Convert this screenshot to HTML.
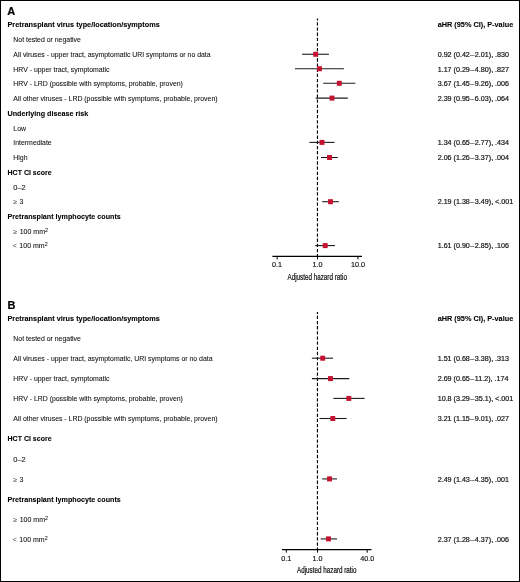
<!DOCTYPE html>
<html><head><meta charset="utf-8"><title>Forest plot</title>
<style>
html,body{margin:0;padding:0;background:#fff;}
svg{display:block;font-family:"Liberation Sans",sans-serif;}
</style></head><body>
<svg width="520" height="582" viewBox="0 0 520 582">
<rect x="0.5" y="0.5" width="519" height="581" fill="#fff" stroke="#000" stroke-width="1"/>
<text transform="translate(7.3 15)" font-size="11" font-weight="700" fill="#000" stroke="#000" stroke-width="0.2">A</text>
<text transform="translate(7.5 27) scale(1.0532 1)" font-size="6.95" font-weight="700" fill="#000" stroke="#000" stroke-width="0.08">Pretransplant virus type/location/symptoms</text>
<text transform="translate(13.3 42) scale(1.0485 1)" font-size="6.6" fill="#111" stroke="#111" stroke-width="0.07">Not tested or negative</text>
<text transform="translate(13.3 57) scale(1.0485 1)" font-size="6.6" fill="#111" stroke="#111" stroke-width="0.07">All viruses - upper tract, asymptomatic URI symptoms or no data</text>
<text transform="translate(437.7 57) scale(1.0500 1)" font-size="6.8" fill="#111" stroke="#111" stroke-width="0.18">0.92 (0.42<tspan dx=".5">–</tspan><tspan dx=".5">2.01), .830</tspan></text>
<text transform="translate(13.3 72) scale(1.0485 1)" font-size="6.6" fill="#111" stroke="#111" stroke-width="0.07">HRV - upper tract, symptomatic</text>
<text transform="translate(437.7 72) scale(1.0500 1)" font-size="6.8" fill="#111" stroke="#111" stroke-width="0.18">1.17 (0.29<tspan dx=".5">–</tspan><tspan dx=".5">4.80), .827</tspan></text>
<text transform="translate(13.3 86) scale(1.0485 1)" font-size="6.6" fill="#111" stroke="#111" stroke-width="0.07">HRV - LRD (possible with symptoms, probable, proven)</text>
<text transform="translate(437.7 86) scale(1.0500 1)" font-size="6.8" fill="#111" stroke="#111" stroke-width="0.18">3.67 (1.45<tspan dx=".5">–</tspan><tspan dx=".5">9.26), .006</tspan></text>
<text transform="translate(13.3 101) scale(1.0485 1)" font-size="6.6" fill="#111" stroke="#111" stroke-width="0.07">All other viruses - LRD (possible with symptoms, probable, proven)</text>
<text transform="translate(437.7 101) scale(1.0500 1)" font-size="6.8" fill="#111" stroke="#111" stroke-width="0.18">2.39 (0.95<tspan dx=".5">–</tspan><tspan dx=".5">6.03), .064</tspan></text>
<text transform="translate(7.5 116) scale(1.0360 1)" font-size="6.95" font-weight="700" fill="#000" stroke="#000" stroke-width="0.08">Underlying disease risk</text>
<text transform="translate(13.3 131) scale(1.0485 1)" font-size="6.6" fill="#111" stroke="#111" stroke-width="0.07">Low</text>
<text transform="translate(13.3 145) scale(1.0485 1)" font-size="6.6" fill="#111" stroke="#111" stroke-width="0.07">Intermediate</text>
<text transform="translate(437.7 145) scale(1.0500 1)" font-size="6.8" fill="#111" stroke="#111" stroke-width="0.18">1.34 (0.65<tspan dx=".5">–</tspan><tspan dx=".5">2.77), .434</tspan></text>
<text transform="translate(13.3 160) scale(1.0485 1)" font-size="6.6" fill="#111" stroke="#111" stroke-width="0.07">High</text>
<text transform="translate(437.7 160) scale(1.0500 1)" font-size="6.8" fill="#111" stroke="#111" stroke-width="0.18">2.06 (1.26<tspan dx=".5">–</tspan><tspan dx=".5">3.37), .004</tspan></text>
<text transform="translate(7.5 175) scale(1.0115 1)" font-size="6.95" font-weight="700" fill="#000" stroke="#000" stroke-width="0.08">HCT CI score</text>
<text transform="translate(13.3 190) scale(1.1212 1)" font-size="6.6" fill="#111" stroke="#111" stroke-width="0.07">0–2</text>
<text transform="translate(13.3 204) scale(1.0606 1)" font-size="6.6" fill="#111" stroke="#111" stroke-width="0.07"><tspan fill="#444" stroke="none">≥</tspan><tspan dx="0.4"> 3</tspan></text>
<text transform="translate(437.7 204) scale(1.0500 1)" font-size="6.8" fill="#111" stroke="#111" stroke-width="0.18">2.19 (1.38<tspan dx=".5">–</tspan><tspan dx=".5">3.49), &lt;.001</tspan></text>
<text transform="translate(7.5 219) scale(1.0302 1)" font-size="6.95" font-weight="700" fill="#000" stroke="#000" stroke-width="0.08">Pretransplant lymphocyte counts</text>
<text transform="translate(13.3 234) scale(1.0606 1)" font-size="6.6" fill="#111" stroke="#111" stroke-width="0.07"><tspan fill="#444" stroke="none">≥</tspan><tspan dx="0.6"> 100 mm<tspan font-size="5" dy="-2.4">2</tspan></text>
<text transform="translate(12.700000000000001 248) scale(1.0606 1)" font-size="6.6" fill="#111" stroke="#111" stroke-width="0.07"><tspan fill="#444" stroke="none">&lt;</tspan><tspan dx="0.6"> 100 mm<tspan font-size="5" dy="-2.4">2</tspan></text>
<text transform="translate(437.7 248) scale(1.0500 1)" font-size="6.8" fill="#111" stroke="#111" stroke-width="0.18">1.61 (0.90<tspan dx=".5">–</tspan><tspan dx=".5">2.85), .106</tspan></text>
<text transform="translate(437.7 27) scale(1.0532 1)" font-size="6.95" font-weight="700" fill="#000" stroke="#000" stroke-width="0.08">aHR (95% CI), P-value</text>
<line x1="317.45" y1="18.6" x2="317.45" y2="256.3" stroke="#000" stroke-width="1.15" stroke-dasharray="3.3 1.85" stroke-dashoffset="1.45"/>
<line x1="272.4" y1="256.3" x2="362.0" y2="256.3" stroke="#000" stroke-width="1.2"/>
<line x1="277.1" y1="256.3" x2="277.1" y2="259.40000000000003" stroke="#000" stroke-width="1"/>
<line x1="317.5" y1="256.3" x2="317.5" y2="259.40000000000003" stroke="#000" stroke-width="1"/>
<line x1="357.9" y1="256.3" x2="357.9" y2="259.40000000000003" stroke="#000" stroke-width="1"/>
<text transform="translate(277.1 267) scale(1.0435 1)" font-size="6.9" text-anchor="middle" fill="#111" stroke="#111" stroke-width="0.15">0.1</text>
<text transform="translate(317.5 267) scale(1.0435 1)" font-size="6.9" text-anchor="middle" fill="#111" stroke="#111" stroke-width="0.15">1.0</text>
<text transform="translate(357.9 267) scale(1.0435 1)" font-size="6.9" text-anchor="middle" fill="#111" stroke="#111" stroke-width="0.15">10.0</text>
<text transform="translate(317.2 280) scale(0.7590 1)" font-size="8.3" text-anchor="middle" fill="#111" stroke="#111" stroke-width="0.22">Adjusted hazard ratio</text>
<line x1="302.1" y1="54.25" x2="328.9" y2="54.25" stroke="#1c1c1c" stroke-width="1.1"/>
<rect x="313.20" y="51.75" width="4.9" height="5" fill="#c41230"/>
<line x1="294.9" y1="68.7" x2="343.9" y2="68.7" stroke="#1c1c1c" stroke-width="1.1"/>
<rect x="317.05" y="66.20" width="4.9" height="5" fill="#c41230"/>
<line x1="323.2" y1="83.3" x2="355.4" y2="83.3" stroke="#1c1c1c" stroke-width="1.1"/>
<rect x="336.85" y="80.80" width="4.9" height="5" fill="#c41230"/>
<line x1="315.7" y1="98.1" x2="347.8" y2="98.1" stroke="#1c1c1c" stroke-width="1.1"/>
<rect x="329.55" y="95.60" width="4.9" height="5" fill="#c41230"/>
<line x1="309.4" y1="142.4" x2="334.5" y2="142.4" stroke="#1c1c1c" stroke-width="1.1"/>
<rect x="319.55" y="139.90" width="4.9" height="5" fill="#c41230"/>
<line x1="321.0" y1="157.5" x2="337.8" y2="157.5" stroke="#1c1c1c" stroke-width="1.1"/>
<rect x="327.05" y="155.00" width="4.9" height="5" fill="#c41230"/>
<line x1="322.2" y1="201.7" x2="338.8" y2="201.7" stroke="#1c1c1c" stroke-width="1.1"/>
<rect x="328.05" y="199.20" width="4.9" height="5" fill="#c41230"/>
<line x1="315.2" y1="245.6" x2="335.0" y2="245.6" stroke="#1c1c1c" stroke-width="1.1"/>
<rect x="322.75" y="243.10" width="4.9" height="5" fill="#c41230"/>
<text transform="translate(7.5 309)" font-size="11" font-weight="700" fill="#000" stroke="#000" stroke-width="0.2">B</text>
<text transform="translate(7.5 321) scale(1.0532 1)" font-size="6.95" font-weight="700" fill="#000" stroke="#000" stroke-width="0.08">Pretransplant virus type/location/symptoms</text>
<text transform="translate(13.3 341) scale(1.0485 1)" font-size="6.6" fill="#111" stroke="#111" stroke-width="0.07">Not tested or negative</text>
<text transform="translate(13.3 361) scale(1.0485 1)" font-size="6.6" fill="#111" stroke="#111" stroke-width="0.07">All viruses - upper tract, asymptomatic, URI symptoms or no data</text>
<text transform="translate(437.7 361) scale(1.0500 1)" font-size="6.8" fill="#111" stroke="#111" stroke-width="0.18">1.51 (0.68<tspan dx=".5">–</tspan><tspan dx=".5">3.38), .313</tspan></text>
<text transform="translate(13.3 381) scale(1.0485 1)" font-size="6.6" fill="#111" stroke="#111" stroke-width="0.07">HRV - upper tract, symptomatic</text>
<text transform="translate(437.7 381) scale(1.0500 1)" font-size="6.8" fill="#111" stroke="#111" stroke-width="0.18">2.69 (0.65<tspan dx=".5">–</tspan><tspan dx=".5">11.2), .174</tspan></text>
<text transform="translate(13.3 401) scale(1.0485 1)" font-size="6.6" fill="#111" stroke="#111" stroke-width="0.07">HRV - LRD (possible with symptoms, probable, proven)</text>
<text transform="translate(437.7 401) scale(1.0500 1)" font-size="6.8" fill="#111" stroke="#111" stroke-width="0.18">10.8 (3.29<tspan dx=".5">–</tspan><tspan dx=".5">35.1), &lt;.001</tspan></text>
<text transform="translate(13.3 421) scale(1.0485 1)" font-size="6.6" fill="#111" stroke="#111" stroke-width="0.07">All other viruses - LRD (possible with symptoms, probable, proven)</text>
<text transform="translate(437.7 421) scale(1.0500 1)" font-size="6.8" fill="#111" stroke="#111" stroke-width="0.18">3.21 (1.15<tspan dx=".5">–</tspan><tspan dx=".5">9.01), .027</tspan></text>
<text transform="translate(7.5 441) scale(1.0115 1)" font-size="6.95" font-weight="700" fill="#000" stroke="#000" stroke-width="0.08">HCT CI score</text>
<text transform="translate(13.3 462) scale(1.1212 1)" font-size="6.6" fill="#111" stroke="#111" stroke-width="0.07">0–2</text>
<text transform="translate(13.3 482) scale(1.0606 1)" font-size="6.6" fill="#111" stroke="#111" stroke-width="0.07"><tspan fill="#444" stroke="none">≥</tspan><tspan dx="0.4"> 3</tspan></text>
<text transform="translate(437.7 482) scale(1.0500 1)" font-size="6.8" fill="#111" stroke="#111" stroke-width="0.18">2.49 (1.43<tspan dx=".5">–</tspan><tspan dx=".5">4.35), .001</tspan></text>
<text transform="translate(7.5 502) scale(1.0302 1)" font-size="6.95" font-weight="700" fill="#000" stroke="#000" stroke-width="0.08">Pretransplant lymphocyte counts</text>
<text transform="translate(13.3 522) scale(1.0606 1)" font-size="6.6" fill="#111" stroke="#111" stroke-width="0.07"><tspan fill="#444" stroke="none">≥</tspan><tspan dx="0.6"> 100 mm<tspan font-size="5" dy="-2.4">2</tspan></text>
<text transform="translate(12.700000000000001 542) scale(1.0606 1)" font-size="6.6" fill="#111" stroke="#111" stroke-width="0.07"><tspan fill="#444" stroke="none">&lt;</tspan><tspan dx="0.6"> 100 mm<tspan font-size="5" dy="-2.4">2</tspan></text>
<text transform="translate(437.7 542) scale(1.0500 1)" font-size="6.8" fill="#111" stroke="#111" stroke-width="0.18">2.37 (1.28<tspan dx=".5">–</tspan><tspan dx=".5">4.37), .006</tspan></text>
<text transform="translate(437.7 321) scale(1.0532 1)" font-size="6.95" font-weight="700" fill="#000" stroke="#000" stroke-width="0.08">aHR (95% CI), P-value</text>
<line x1="317.45" y1="312.1" x2="317.45" y2="549.6" stroke="#000" stroke-width="1.15" stroke-dasharray="3.3 1.85" stroke-dashoffset="1.45"/>
<line x1="282.0" y1="549.6" x2="371.5" y2="549.6" stroke="#000" stroke-width="1.2"/>
<line x1="286.3" y1="549.6" x2="286.3" y2="552.7" stroke="#000" stroke-width="1"/>
<line x1="317.5" y1="549.6" x2="317.5" y2="552.7" stroke="#000" stroke-width="1"/>
<line x1="367.2" y1="549.6" x2="367.2" y2="552.7" stroke="#000" stroke-width="1"/>
<text transform="translate(286.3 561) scale(1.0435 1)" font-size="6.9" text-anchor="middle" fill="#111" stroke="#111" stroke-width="0.15">0.1</text>
<text transform="translate(317.5 561) scale(1.0435 1)" font-size="6.9" text-anchor="middle" fill="#111" stroke="#111" stroke-width="0.15">1.0</text>
<text transform="translate(367.2 561) scale(1.0435 1)" font-size="6.9" text-anchor="middle" fill="#111" stroke="#111" stroke-width="0.15">40.0</text>
<text transform="translate(326.75 573) scale(0.7590 1)" font-size="8.3" text-anchor="middle" fill="#111" stroke="#111" stroke-width="0.22">Adjusted hazard ratio</text>
<line x1="311.9" y1="358.2" x2="333.0" y2="358.2" stroke="#1c1c1c" stroke-width="1.1"/>
<rect x="320.25" y="355.70" width="4.9" height="5" fill="#c41230"/>
<line x1="311.9" y1="378.6" x2="349.3" y2="378.6" stroke="#1c1c1c" stroke-width="1.1"/>
<rect x="328.05" y="376.10" width="4.9" height="5" fill="#c41230"/>
<line x1="333.3" y1="398.4" x2="364.6" y2="398.4" stroke="#1c1c1c" stroke-width="1.1"/>
<rect x="346.35" y="395.90" width="4.9" height="5" fill="#c41230"/>
<line x1="319.5" y1="418.5" x2="346.6" y2="418.5" stroke="#1c1c1c" stroke-width="1.1"/>
<rect x="330.35" y="416.00" width="4.9" height="5" fill="#c41230"/>
<line x1="322.2" y1="478.9" x2="337.0" y2="478.9" stroke="#1c1c1c" stroke-width="1.1"/>
<rect x="327.05" y="476.40" width="4.9" height="5" fill="#c41230"/>
<line x1="320.7" y1="538.9" x2="337.0" y2="538.9" stroke="#1c1c1c" stroke-width="1.1"/>
<rect x="326.05" y="536.40" width="4.9" height="5" fill="#c41230"/>
</svg>
</body></html>
